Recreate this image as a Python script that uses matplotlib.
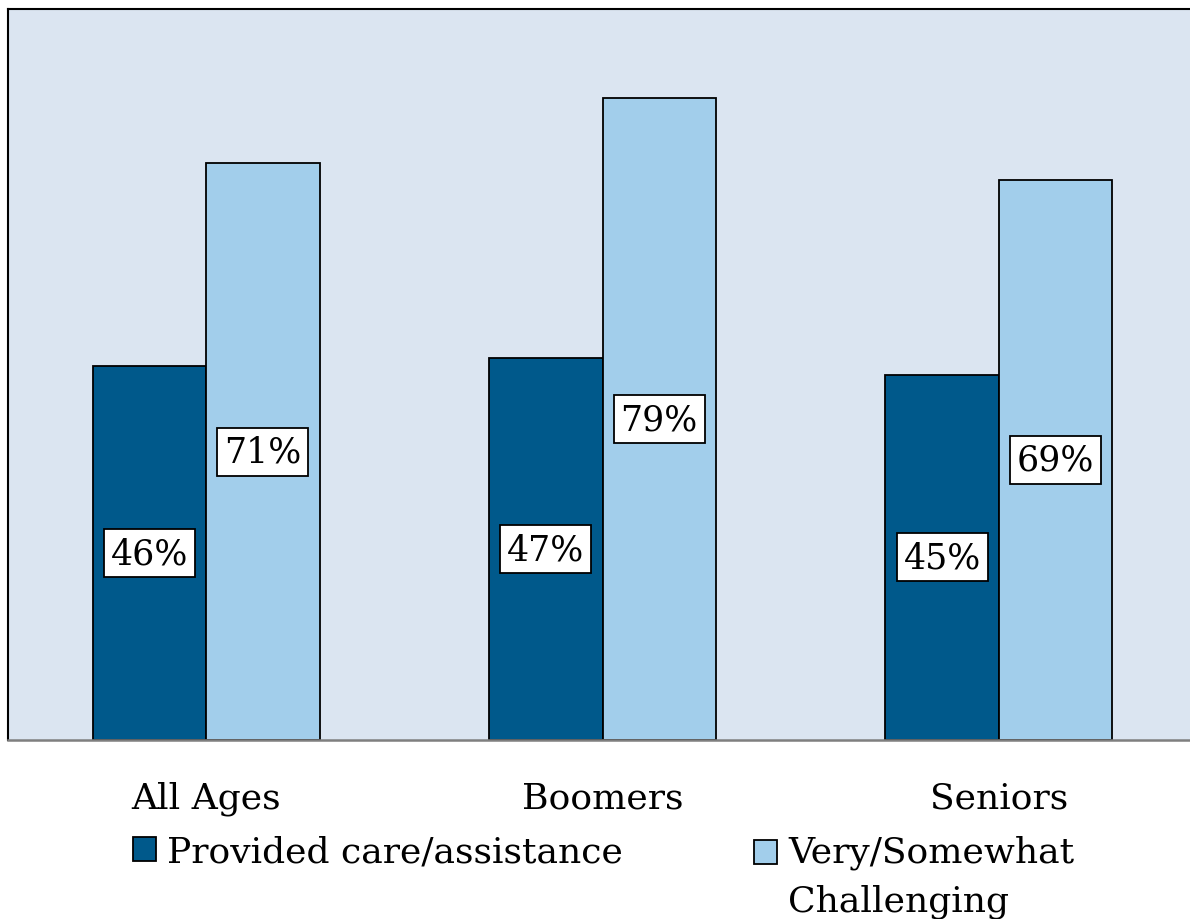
import matplotlib
matplotlib.use("Agg")
import matplotlib.pyplot as plt
import numpy as np
from matplotlib.patches import Rectangle
from matplotlib.legend_handler import HandlerPatch

# data
groups = ["All Ages", "Boomers", "Seniors"]
provided_care = [46, 47, 45]
challenging = [71, 79, 69]
series_names = ["Provided care/assistance", "Very/Somewhat\nChallenging"]

dark_blue = "#00598B"
light_blue = "#A2CEEB"
panel_bg = "#DBE5F1"

plt.rcParams["font.family"] = ["DejaVu Serif"]

fig = plt.figure(figsize=(11.9, 9.2), dpi=100)
ax = fig.add_axes([8 / 1190, 1 - 741 / 920, 1189 / 1190, 731 / 920])
ax.set_facecolor(panel_bg)

x = np.arange(len(groups))
w = 0.286
b1 = ax.bar(x - w / 2, provided_care, w, color=dark_blue, edgecolor="black",
            linewidth=1.3, label=series_names[0], zorder=2)
b2 = ax.bar(x + w / 2, challenging, w, color=light_blue, edgecolor="black",
            linewidth=1.3, label=series_names[1], zorder=2)

box = dict(boxstyle="square,pad=0.2", facecolor="white", edgecolor="black", linewidth=1.3)
for bars in (b1, b2):
    ax.bar_label(bars, labels=[f"{v}%" for v in bars.datavalues], label_type="center",
                 fontsize=25, bbox=box, zorder=3)

ax.set_xlim(-0.5, 2.5)
ax.set_ylim(0, 90)
ax.set_yticks([])
ax.set_xticks(x)
ax.set_xticklabels(groups, fontsize=26)
ax.tick_params(axis="x", length=0, pad=29)

for s in ("left", "top", "right"):
    ax.spines[s].set_color("black")
    ax.spines[s].set_linewidth(1.5)
ax.spines["bottom"].set_color("#7f7f7f")
ax.spines["bottom"].set_linewidth(1.8)


# legend handle sitting next to the first line of a two-line label
def top_aligned_square(legend, orig_handle, xdescent, ydescent, width, height, fontsize):
    return Rectangle((-xdescent, -ydescent + 18), width, height)


leg_kw = dict(frameon=False, fontsize=26, borderpad=0, borderaxespad=0,
              handlelength=0.65, handleheight=0.65, handletextpad=0.3)
fig.legend(handles=[b1.patches[0]], labels=[series_names[0]], loc="center left",
           bbox_to_anchor=(133 / 1190, 1 - 853 / 920), **leg_kw)
h2 = b2.patches[0]
leg2 = fig.legend(handles=[h2], labels=[series_names[1]], loc="center left",
                  bbox_to_anchor=(754 / 1190, 1 - 877 / 920),
                  handler_map={h2: HandlerPatch(patch_func=top_aligned_square)}, **leg_kw)
for t in leg2.get_texts():
    t.set_linespacing(1.55)

fig.savefig("out.png", dpi=100)
